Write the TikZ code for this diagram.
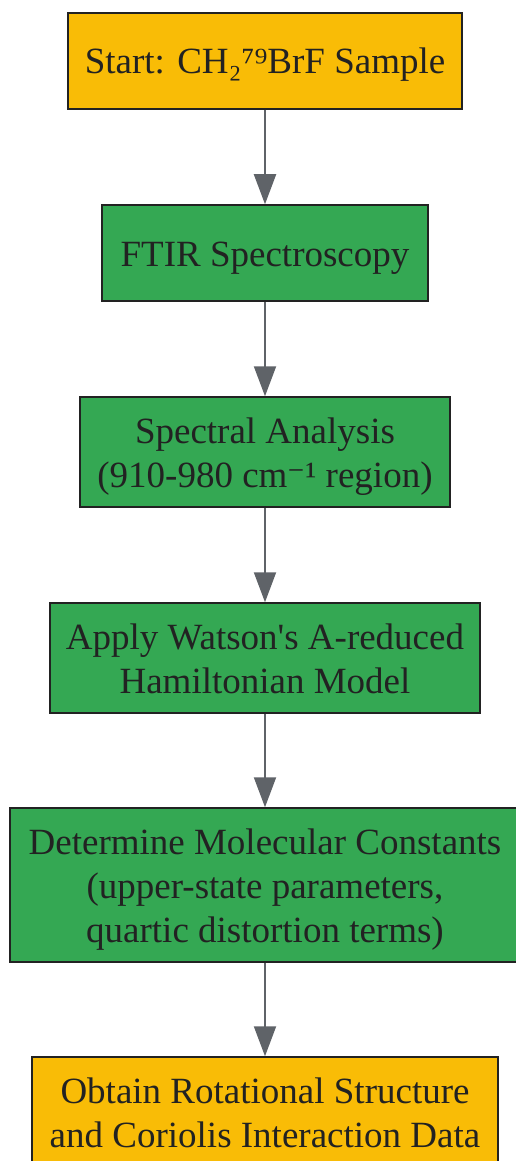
\documentclass[tikz,border=0pt]{standalone}
\usepackage{fontspec}
\setmainfont{Liberation Serif}
\newfontfamily\supfont{DejaVu Serif}
\usetikzlibrary{arrows.meta}
\definecolor{endyellow}{HTML}{F9BC06}
\definecolor{stagegreen}{HTML}{34A853}
\definecolor{linkgrey}{HTML}{5F6368}
\definecolor{inkdark}{HTML}{222222}

\begin{document}
\begin{tikzpicture}
[x=1pt,y=1pt,
box/.style={rectangle,draw=inkdark,line width=1.5pt,text=inkdark,align=center,inner sep=0pt,font=\fontsize{37}{44}\selectfont,text height=36pt,text depth=10pt},
twoline/.style={text height=80pt},
threeline/.style={text height=124pt},
ends/.style={box,fill=endyellow},
stage/.style={box,fill=stagegreen},
flow/.style={draw=linkgrey,color=linkgrey,line width=2pt,-{Triangle[length=30pt,width=22pt]}}]
\useasboundingbox (0,0) rectangle (516,-1161);
\node[ends,minimum width=394pt,minimum height=96pt] (start) at (265,-61) {Start: CH₂⁷⁹BrF Sample};
\node[stage,minimum width=326pt,minimum height=96pt] (ftir) at (265,-253) {FTIR Spectroscopy};
\node[stage,twoline,minimum width=370pt,minimum height=110pt] (spec) at (265,-452) {Spectral Analysis\\(910-980 cm{\supfont\fontsize{34}{34}\selectfont ⁻}¹ region)};
\node[stage,twoline,minimum width=430pt,minimum height=110pt] (watson) at (265,-658) {Apply Watson\textquotesingle s A-reduced\\Hamiltonian Model};
\node[stage,threeline,minimum width=510pt,minimum height=154pt] (consts) at (265,-885) {Determine Molecular Constants\\(upper-state parameters,\\quartic distortion terms)};
\node[ends,twoline,minimum width=466pt,minimum height=110pt] (result) at (265,-1112) {Obtain Rotational Structure\\and Coriolis Interaction Data};
\draw[flow] (start) -- (ftir);
\draw[flow] (ftir) -- (spec);
\draw[flow] (spec) -- (watson);
\draw[flow] (watson) -- (consts);
\draw[flow] (consts) -- (result);
\end{tikzpicture}
\end{document}
